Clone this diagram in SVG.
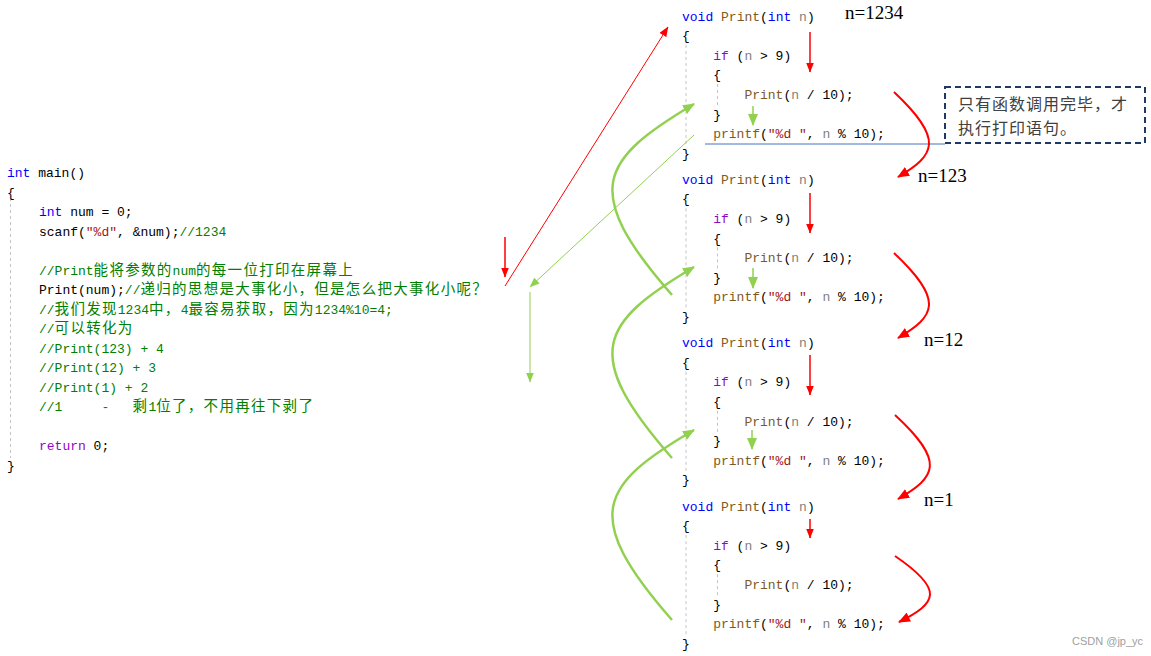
<svg xmlns="http://www.w3.org/2000/svg" width="1151" height="656" viewBox="0 0 1151 656">
<defs>
<style>
.code{font-family:"Liberation Mono","Noto Sans CJK SC",monospace;font-size:13px;fill:#000}
.c{font-family:"Noto Sans CJK SC",sans-serif;font-size:14.5px;letter-spacing:1.3px}
.kw{fill:#0000ff}
.ctl{fill:#8f08c4}
.fn{fill:#7d5a24}
.pm{fill:#808080}
.str{fill:#a31515}
.cm{fill:#008000}
.guide{stroke:#c4c4c4;stroke-width:1;stroke-dasharray:3 3;fill:none}
.lbl{font-family:"Liberation Serif",serif;font-size:19px;fill:#000}
.note{font-family:"Noto Sans CJK SC",sans-serif;font-size:16px;letter-spacing:1px;fill:#404040}
.rv{stroke:#ff0000;stroke-width:1.5;fill:none;marker-end:url(#arR)}
.gv{stroke:#92d050;stroke-width:1.5;fill:none;marker-end:url(#arG)}
.rc{stroke:#ff0000;stroke-width:2;fill:none;marker-end:url(#arRc)}
.gc{stroke:#92d050;stroke-width:2.5;fill:none;marker-end:url(#arG)}
.rt{stroke:#ff0000;stroke-width:1;fill:none;marker-end:url(#arR)}
.gt{stroke:#92d050;stroke-width:1;fill:none;marker-end:url(#arGt)}
</style>
<marker id="arR" viewBox="0 0 10 8" refX="9.5" refY="4" markerWidth="10" markerHeight="8" markerUnits="userSpaceOnUse" orient="auto"><path d="M0,0L10,4L0,8z" fill="#ff0000"/></marker>
<marker id="arRc" viewBox="0 0 12 10" refX="11" refY="5" markerWidth="12" markerHeight="10" markerUnits="userSpaceOnUse" orient="auto"><path d="M0,0L12,5L0,10z" fill="#ff0000"/></marker>
<marker id="arG" viewBox="0 0 12 10" refX="11" refY="5" markerWidth="12" markerHeight="10" markerUnits="userSpaceOnUse" orient="auto"><path d="M0,0L12,5L0,10z" fill="#92d050"/></marker>
<marker id="arGt" viewBox="0 0 10 8" refX="9.5" refY="4" markerWidth="10" markerHeight="8" markerUnits="userSpaceOnUse" orient="auto"><path d="M0,0L10,4L0,8z" fill="#92d050"/></marker>
</defs>
<rect x="0" y="0" width="1151" height="656" fill="#ffffff"/>

<g id="main-code" class="code">
<line class="guide" x1="10.5" y1="198" x2="10.5" y2="458"/>
<text x="7" y="177"><tspan class="kw">int</tspan> main()</text>
<text x="7" y="196.5">{</text>
<text x="39" y="216"><tspan class="kw">int</tspan> num = 0;</text>
<text x="39" y="235.5">scanf(<tspan class="str">"%d"</tspan>, &amp;num);<tspan class="cm">//1234</tspan></text>
<text x="39" y="274.5" class="cm">//Print<tspan class="c">能将参数的</tspan>num<tspan class="c">的每一位打印在屏幕上</tspan></text>
<text x="39" y="294">Print(num);<tspan class="cm">//</tspan><tspan class="cm c">递归的思想是大事化小，但是怎么把大事化小呢？</tspan></text>
<text x="39" y="313.5" class="cm">//<tspan class="c">我们发现</tspan>1234<tspan class="c">中，</tspan>4<tspan class="c">最容易获取，因为</tspan>1234%10=4;</text>
<text x="39" y="333" class="cm">//<tspan class="c">可以转化为</tspan></text>
<text x="39" y="352.5" class="cm">//Print(123) + 4</text>
<text x="39" y="372" class="cm">//Print(12) + 3</text>
<text x="39" y="391.5" class="cm">//Print(1) + 2</text>
<text y="411" class="cm"><tspan x="39">//1</tspan><tspan x="101.4">-</tspan><tspan x="132.6" class="c">剩</tspan>1<tspan class="c">位了，不用再往下剥了</tspan></text>
<text x="39" y="450"><tspan class="ctl">return</tspan> 0;</text>
<text x="7" y="469.5">}</text>
</g>

<g id="print-1234" class="code">
<line class="guide" x1="686" y1="45" x2="686" y2="146"/>
<line class="guide" x1="717.5" y1="84" x2="717.5" y2="106"/>
<text x="682" y="20.5"><tspan class="kw">void</tspan> <tspan class="fn">Print</tspan>(<tspan class="kw">int</tspan> <tspan class="pm">n</tspan>)</text>
<text x="682" y="40.1">{</text>
<text x="713.2" y="59.7"><tspan class="ctl">if</tspan> (<tspan class="pm">n</tspan> &gt; 9)</text>
<text x="713.2" y="79.3">{</text>
<text x="744.4" y="98.9"><tspan class="fn">Print</tspan>(<tspan class="pm">n</tspan> / 10);</text>
<text x="713.2" y="118.5">}</text>
<text x="713.2" y="138.1"><tspan class="fn">printf</tspan>(<tspan class="str">"%d "</tspan>, <tspan class="pm">n</tspan> % 10);</text>
<text x="682" y="157.7">}</text>
</g>

<g id="print-123" class="code" transform="translate(0,163.4)">
<line class="guide" x1="686" y1="45" x2="686" y2="146"/>
<line class="guide" x1="717.5" y1="84" x2="717.5" y2="106"/>
<text x="682" y="20.5"><tspan class="kw">void</tspan> <tspan class="fn">Print</tspan>(<tspan class="kw">int</tspan> <tspan class="pm">n</tspan>)</text>
<text x="682" y="40.1">{</text>
<text x="713.2" y="59.7"><tspan class="ctl">if</tspan> (<tspan class="pm">n</tspan> &gt; 9)</text>
<text x="713.2" y="79.3">{</text>
<text x="744.4" y="98.9"><tspan class="fn">Print</tspan>(<tspan class="pm">n</tspan> / 10);</text>
<text x="713.2" y="118.5">}</text>
<text x="713.2" y="138.1"><tspan class="fn">printf</tspan>(<tspan class="str">"%d "</tspan>, <tspan class="pm">n</tspan> % 10);</text>
<text x="682" y="157.7">}</text>
</g>

<g id="print-12" class="code" transform="translate(0,326.8)">
<line class="guide" x1="686" y1="45" x2="686" y2="146"/>
<line class="guide" x1="717.5" y1="84" x2="717.5" y2="106"/>
<text x="682" y="20.5"><tspan class="kw">void</tspan> <tspan class="fn">Print</tspan>(<tspan class="kw">int</tspan> <tspan class="pm">n</tspan>)</text>
<text x="682" y="40.1">{</text>
<text x="713.2" y="59.7"><tspan class="ctl">if</tspan> (<tspan class="pm">n</tspan> &gt; 9)</text>
<text x="713.2" y="79.3">{</text>
<text x="744.4" y="98.9"><tspan class="fn">Print</tspan>(<tspan class="pm">n</tspan> / 10);</text>
<text x="713.2" y="118.5">}</text>
<text x="713.2" y="138.1"><tspan class="fn">printf</tspan>(<tspan class="str">"%d "</tspan>, <tspan class="pm">n</tspan> % 10);</text>
<text x="682" y="157.7">}</text>
</g>

<g id="print-1" class="code" transform="translate(0,490.2)">
<line class="guide" x1="686" y1="45" x2="686" y2="146"/>
<line class="guide" x1="717.5" y1="84" x2="717.5" y2="106"/>
<text x="682" y="20.5"><tspan class="kw">void</tspan> <tspan class="fn">Print</tspan>(<tspan class="kw">int</tspan> <tspan class="pm">n</tspan>)</text>
<text x="682" y="40.1">{</text>
<text x="713.2" y="59.7"><tspan class="ctl">if</tspan> (<tspan class="pm">n</tspan> &gt; 9)</text>
<text x="713.2" y="79.3">{</text>
<text x="744.4" y="98.9"><tspan class="fn">Print</tspan>(<tspan class="pm">n</tspan> / 10);</text>
<text x="713.2" y="118.5">}</text>
<text x="713.2" y="138.1"><tspan class="fn">printf</tspan>(<tspan class="str">"%d "</tspan>, <tspan class="pm">n</tspan> % 10);</text>
<text x="682" y="157.7">}</text>
</g>

<g id="labels" class="lbl">
<text x="845" y="19">n=1234</text>
<text x="918" y="182">n=123</text>
<text x="924" y="346">n=12</text>
<text x="924" y="506">n=1</text>
</g>

<g id="note">
<rect x="945" y="87" width="200" height="56" fill="#ffffff" stroke="#203864" stroke-width="2" stroke-dasharray="6 4"/>
<text class="note" x="958" y="110">只有函数调用完毕，才</text>
<text class="note" x="958" y="134">执行打印语句。</text>
</g>

<g id="connectors">
<line x1="705" y1="144" x2="945" y2="144" stroke="#4472c4" stroke-width="1"/>
<path class="rv" d="M810,32L810,72"/>
<path class="rv" d="M810,193L810,233"/>
<path class="rv" d="M810,355L810,395"/>
<path class="rv" d="M810,519L810,538"/>
<path class="rv" d="M505,237L505,277"/>
<path class="gv" d="M753,106L753,125"/>
<path class="gv" d="M753,268L753,288"/>
<path class="gv" d="M752,430L752,449"/>
<path class="rc" d="M894,92C945,140 935,155 898,177"/>
<path class="rc" d="M894,253C945,301 935,316 898,338"/>
<path class="rc" d="M895,415C946,462 936,477 898,499"/>
<path class="rc" d="M895,556C945,590 937,603 899,622"/>
<path class="gc" d="M672,295C580,190 600,160 694,104"/>
<path class="gc" d="M672,458C580,353 600,323 694,267"/>
<path class="gc" d="M672,620C580,515 600,485 694,430"/>
<path class="rt" d="M505,286L668,27"/>
<path class="gt" d="M694,135L530,287"/>
<path class="gt" d="M530,292L530,382"/>
</g>

<text x="1072" y="645" font-family="Liberation Sans, sans-serif" font-size="11" fill="#a0a0a0">CSDN @jp_yc</text>
</svg>
